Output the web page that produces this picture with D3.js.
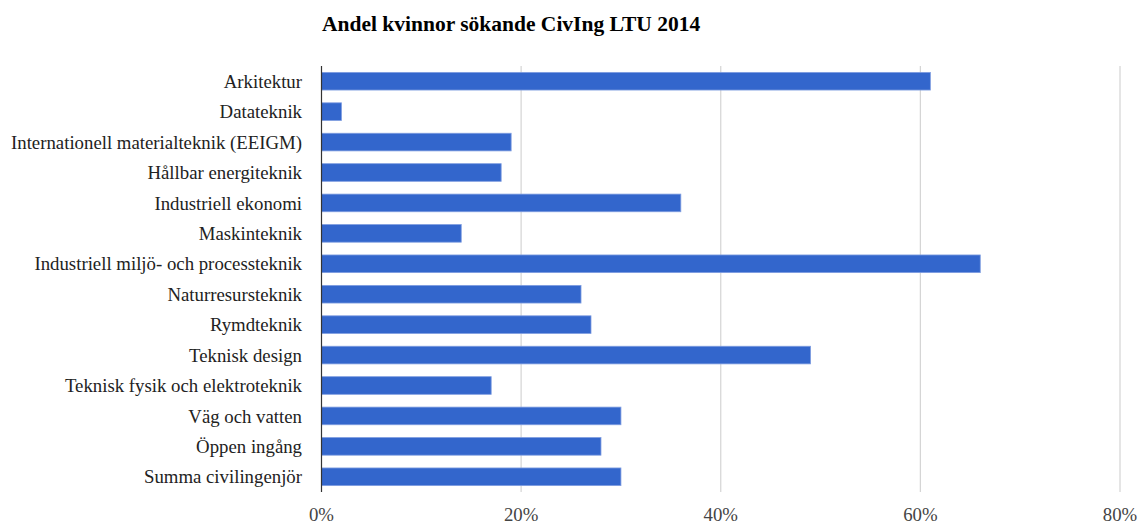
<!DOCTYPE html>
<html>
<head>
<meta charset="utf-8">
<script src="https://cdnjs.cloudflare.com/ajax/libs/d3/7.8.5/d3.min.js"></script>
<style>
  body { margin: 0; background: #fff; }
</style>
</head>
<body>
<div id="vis"></div>
<script>
const categories = [
  "Arkitektur",
  "Datateknik",
  "Internationell materialteknik (EEIGM)",
  "Hållbar energiteknik",
  "Industriell ekonomi",
  "Maskinteknik",
  "Industriell miljö- och processteknik",
  "Naturresursteknik",
  "Rymdteknik",
  "Teknisk design",
  "Teknisk fysik och elektroteknik",
  "Väg och vatten",
  "Öppen ingång",
  "Summa civilingenjör"
];
const shares = [0.61, 0.02, 0.19, 0.18, 0.36, 0.14, 0.66, 0.26, 0.27, 0.49, 0.17, 0.30, 0.28, 0.30];
const ticks = [0, 0.2, 0.4, 0.6, 0.8];
const title = "Andel kvinnor sökande CivIng LTU 2014";

const w = 1139, h = 524;
const plotLeft = 321.5, plotRight = 1120, plotTop = 66, plotBottom = 492;
const serif = "'Liberation Serif', 'DejaVu Serif', serif";

const svg = d3.select("#vis").append("svg")
  .attr("width", w).attr("height", h)
  .attr("viewBox", [0, 0, w, h]);

const x = d3.scaleLinear().domain([0, 0.8]).range([plotLeft, plotRight]);
const y = d3.scaleBand().domain(categories).range([plotTop, plotBottom]).paddingInner(0.42).paddingOuter(0.21);

// gridlines
svg.append("g")
  .selectAll("line")
  .data(ticks.slice(1))
  .join("line")
  .attr("x1", d => x(d)).attr("x2", d => x(d))
  .attr("y1", plotTop).attr("y2", plotBottom)
  .attr("stroke", "#d4d4d4")
  .attr("stroke-width", 1.2);

// bars
svg.append("g")
  .selectAll("rect")
  .data(shares)
  .join("rect")
  .attr("x", x(0))
  .attr("y", (d, i) => y(categories[i]))
  .attr("width", d => x(d) - x(0))
  .attr("height", y.bandwidth())
  .attr("fill", "#3366cc")
  .attr("stroke", "#7f9de0")
  .attr("stroke-width", 0.8);

// zero axis line
svg.append("line")
  .attr("x1", x(0)).attr("x2", x(0))
  .attr("y1", plotTop).attr("y2", plotBottom)
  .attr("stroke", "#333")
  .attr("stroke-width", 1.2);

// category labels
svg.append("g")
  .selectAll("text")
  .data(categories)
  .join("text")
  .attr("x", 302)
  .attr("y", d => y(d) + y.bandwidth() / 2)
  .attr("dy", "0.35em")
  .attr("text-anchor", "end")
  .attr("font-family", serif)
  .attr("font-size", 18.8)
  .attr("fill", "#222")
  .text(d => d);

// tick labels
svg.append("g")
  .selectAll("text")
  .data(ticks)
  .join("text")
  .attr("x", d => x(d))
  .attr("y", 521)
  .attr("text-anchor", "middle")
  .attr("font-family", serif)
  .attr("font-size", 18.8)
  .attr("fill", "#444")
  .text(d3.format(".0%"));

svg.append("text")
  .attr("x", 322)
  .attr("y", 31)
  .attr("font-family", serif)
  .attr("font-size", 21.5)
  .attr("font-weight", "bold")
  .attr("fill", "#000")
  .text(title);
</script>
</body>
</html>
